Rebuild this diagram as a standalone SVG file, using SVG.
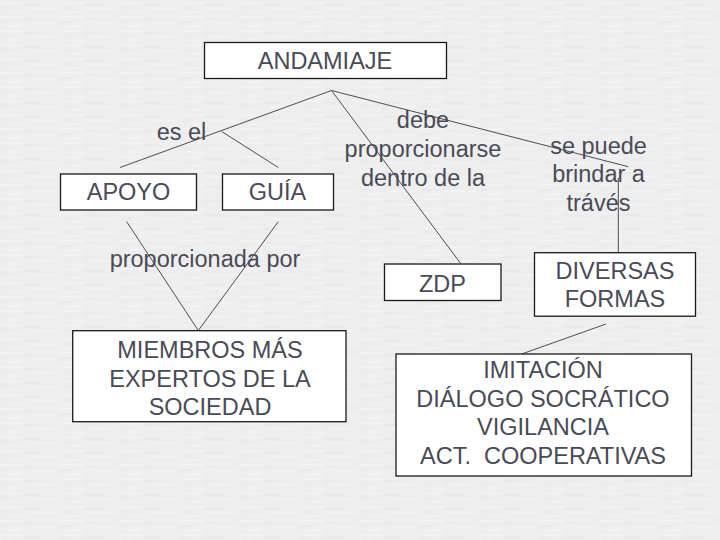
<svg xmlns="http://www.w3.org/2000/svg" width="720" height="540" viewBox="0 0 720 540">
<style>
.box{fill:#ffffff;stroke:#1a1a1a;stroke-width:1.3}
.t{font-family:"Liberation Sans",Arial,sans-serif;font-size:23.5px;fill:#4a4a58;text-anchor:middle}
.c{stroke:#3a3a44;stroke-width:0.9;fill:none}
</style>
<defs>
<pattern id="tex" width="60" height="14" patternUnits="userSpaceOnUse">
<rect width="60" height="14" fill="#eeeeee"/>
<path d="M0 3h22M30 9h26M8 12h14" stroke="#f6f6f6" stroke-width="1.2"/>
<path d="M24 5h18M2 8h10" stroke="#e6e6e6" stroke-width="1"/>
</pattern>
</defs>
<rect width="720" height="540" fill="url(#tex)"/>
<g id="connectors">
<line class="c" x1="331.5" y1="90.5" x2="120" y2="167.5"/>
<line class="c" x1="221.7" y1="131.5" x2="278.3" y2="167.5"/>
<line class="c" x1="331.5" y1="90.5" x2="460.7" y2="263.5"/>
<line class="c" x1="331.5" y1="90.5" x2="628.3" y2="166.7"/>
<line class="c" x1="618.3" y1="178" x2="618.3" y2="252.7"/>
<line class="c" x1="126.7" y1="221.7" x2="198.3" y2="330.5"/>
<line class="c" x1="278.3" y1="221.7" x2="198.3" y2="330.5"/>
<line class="c" x1="606" y1="324" x2="521.7" y2="354"/>
</g>
<g id="andamiaje">
<rect class="box" x="204.5" y="42.5" width="242" height="36"/>
<text class="t" x="325" y="69">ANDAMIAJE</text>
</g>
<g id="label-es-el">
<text class="t" x="181.5" y="140">es el</text>
</g>
<g id="apoyo">
<rect class="box" x="60.5" y="174" width="136" height="36"/>
<text class="t" x="128.5" y="199.5">APOYO</text>
</g>
<g id="guia">
<rect class="box" x="222.5" y="174" width="111" height="36"/>
<text class="t" x="277.5" y="199.5">GUÍA</text>
</g>
<g id="label-debe">
<text class="t" x="423" y="128.3">debe</text>
<text class="t" x="423" y="157.3">proporcionarse</text>
<text class="t" x="423" y="186">dentro de la</text>
</g>
<g id="label-se-puede">
<text class="t" x="598.5" y="153.5">se puede</text>
<text class="t" x="598.5" y="182">brindar a</text>
<text class="t" x="598.5" y="210.5">trávés</text>
</g>
<g id="label-proporcionada">
<text class="t" x="205" y="267">proporcionada por</text>
</g>
<g id="zdp">
<rect class="box" x="384.5" y="264" width="116.5" height="36.5"/>
<text class="t" x="442.5" y="291.5">ZDP</text>
</g>
<g id="diversas">
<rect class="box" x="534.5" y="252.7" width="161" height="63.5"/>
<text class="t" x="615" y="278.5">DIVERSAS</text>
<text class="t" x="615" y="306.5">FORMAS</text>
</g>
<g id="miembros">
<rect class="box" x="72.7" y="330.7" width="273.3" height="91"/>
<text class="t" x="210" y="357.5">MIEMBROS MÁS</text>
<text class="t" x="210" y="386.5">EXPERTOS DE LA</text>
<text class="t" x="210" y="414.5">SOCIEDAD</text>
</g>
<g id="imitacion">
<rect class="box" x="396" y="354" width="295.5" height="122"/>
<text class="t" x="543" y="377.5">IMITACIÓN</text>
<text class="t" x="543" y="406.5">DIÁLOGO SOCRÁTICO</text>
<text class="t" x="543" y="435">VIGILANCIA</text>
<text class="t" x="543" y="463.5" xml:space="preserve">ACT.  COOPERATIVAS</text>
</g>
</svg>
